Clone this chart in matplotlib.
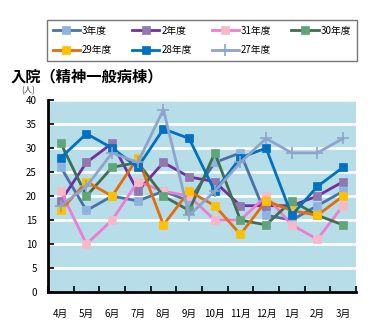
import numpy as np
import matplotlib
matplotlib.use('Agg')
import matplotlib.pyplot as plt

plt.rcParams['font.family'] = ['Noto Sans CJK JP', 'DejaVu Sans']

months = ['4月', '5月', '6月', '7月', '8月', '9月', '10月', '11月', '12月', '1月', '2月', '3月']

# values per fiscal year (人)
y_r3 = [26, 17, 20, 19, 21, 19, 27, 29, 16, 15, 18, 21]
y_r2 = [19, 27, 31, 21, 27, 24, 23, 18, 18, 18, 20, 23]
y_h31 = [21, 10, 15, 23, 21, 20, 15, 15, 20, 14, 11, 18]
y_h30 = [31, 20, 26, 27, 20, 17, 29, 15, 14, 19, 16, 14]
y_h29 = [17, 23, 20, 28, 14, 21, 18, 12, 19, 17, 16, 20]
y_h28 = [28, 33, 30, 26, 34, 32, 21, 28, 30, 16, 22, 26]
y_h27 = [18, 22, 29, 27, 38, 16, 21, 27, 32, 29, 29, 32]

labels = ['3年度', '2年度', '31年度', '30年度', '29年度', '28年度', '27年度']
series = [y_r3, y_r2, y_h31, y_h30, y_h29, y_h28, y_h27]
line_colors = ['#4a72a8', '#7030a0', '#f07bd0', '#3f6e50', '#e46c0a', '#0070c0', '#8ea4cc']
marker_colors = ['#8fb3e0', '#9178b0', '#f9b8c8', '#5fa57a', '#ffc000', '#0070c0', '#8ea4cc']
markers = ['s', 's', 's', 's', 's', 's', '+']

fig = plt.figure(figsize=(3.75, 3.26), dpi=100)
ax = fig.add_axes([0.128, 0.104, 0.821, 0.589])
ax.set_facecolor('#b7dde8')

x = np.arange(len(months))
handles = []
for ys, lab, lc, mc, mk in zip(series, labels, line_colors, marker_colors, markers):
    h, = ax.plot(x, ys, color=lc, lw=2, marker=mk, markersize=5.5 if mk == 's' else 9,
                 markerfacecolor=mc, markeredgecolor=mc, markeredgewidth=1.2 if mk == '+' else 0.5,
                 label=lab)
    handles.append(h)

ax.set_xlim(-0.5, len(months) - 0.5)
ax.set_ylim(0, 40)
ax.set_yticks(np.arange(0, 41, 5))
ax.set_xticks(x)
ax.set_xticklabels(months)
ax.set_xticks(np.arange(-0.5, len(months), 1), minor=True)
ax.tick_params(axis='x', which='major', length=0, pad=12, labelsize=7)
ax.tick_params(axis='x', which='minor', direction='in', length=4, width=1.2)
ax.tick_params(axis='y', direction='in', length=4, width=1.2, pad=8, labelsize=7)
ax.yaxis.grid(True, color='white', lw=1.8)
ax.set_axisbelow(True)
for s in ['top', 'right']:
    ax.spines[s].set_visible(False)
for s in ['left', 'bottom']:
    ax.spines[s].set_linewidth(2)

fig.text(0.027, 0.765, '入院（精神一般病棟）', fontsize=11, fontweight='bold', va='center')
fig.text(0.058, 0.722, '(人)', fontsize=6, va='center', color='#444444')

# legend in row order 3,2,31,30 / 29,28,27
order = [0, 4, 1, 5, 2, 6, 3]
leg = fig.legend([handles[i] for i in order], [labels[i] for i in order],
                 loc='upper left', bbox_to_anchor=(0.125, 0.816, 0.827, 0.123),
                 mode='expand', ncol=4, fontsize=7, handlelength=2.8, handletextpad=0.2,
                 borderaxespad=0, frameon=True, fancybox=False, edgecolor='#555555',
                 labelspacing=1.0, columnspacing=1.0, borderpad=0.6)
leg.get_frame().set_linewidth(1)

fig.savefig('out.png', dpi=100)
